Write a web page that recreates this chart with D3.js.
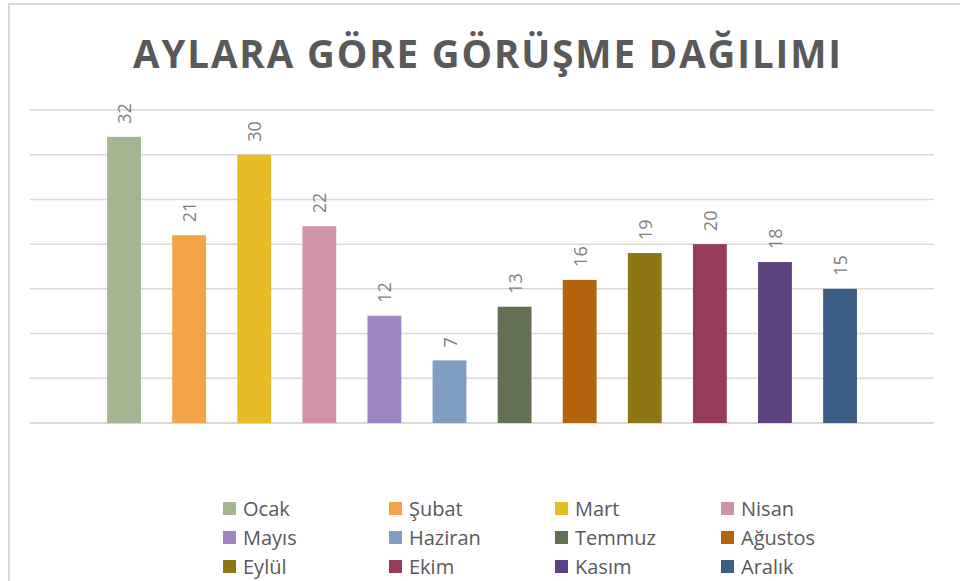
<!DOCTYPE html>
<html>
<head>
<meta charset="utf-8">
<script src="https://cdn.jsdelivr.net/npm/d3@7"></script>
<style>
  body { margin: 0; background: #fff; }
  svg { display: block; }
</style>
</head>
<body>
<svg id="chart" width="960" height="581"></svg>
<script>
// Chart data
const months = ['Ocak', 'Şubat', 'Mart', 'Nisan', 'Mayıs', 'Haziran',
  'Temmuz', 'Ağustos', 'Eylül', 'Ekim', 'Kasım', 'Aralık'];
const counts = [32, 21, 30, 22, 12, 7, 13, 16, 19, 20, 18, 15];
const colors = ['#A5B592', '#F3A447', '#E7BC29', '#D092A7', '#9C85C0', '#809EC2',
  '#637052', '#B3640F', '#907514', '#953C5B', '#5C4280', '#3C5E84'];
const yTicks = [0, 5, 10, 15, 20, 25, 30, 35];

const svg = d3.select('#chart');

// Chart frame
svg.append('path')
  .attr('d', 'M9,581 V4 H960')
  .attr('fill', 'none')
  .attr('stroke', '#d9d9d9')
  .attr('stroke-width', 2);

// Title
svg.append('text')
  .attr('x', 488)
  .attr('y', 68)
  .attr('text-anchor', 'middle')
  .attr('textLength', 710)
  .attr('lengthAdjust', 'spacingAndGlyphs')
  .style('font-family', '"Open Sans", sans-serif')
  .style('font-weight', 'bold')
  .style('font-size', '40px')
  .style('letter-spacing', '2px')
  .style('fill', '#595959')
  .text('AYLARA GÖRE GÖRÜŞME DAĞILIMI');

// Scales
const xScale = d3.scaleBand()
  .domain(months)
  .range([91.5, 872.6])
  .paddingInner(0.48)
  .paddingOuter(0.24);

const yScale = d3.scaleLinear()
  .domain([0, 35])
  .range([423, 110]);

// Gridlines
svg.append('g')
  .selectAll('line')
  .data(yTicks)
  .enter().append('line')
  .attr('x1', 30)
  .attr('x2', 934)
  .attr('y1', (d) => yScale(d))
  .attr('y2', (d) => yScale(d))
  .attr('stroke', '#d9d9d9')
  .attr('stroke-width', (d) => (d === 0 ? 2 : 1.5));

// Bars
svg.append('g')
  .selectAll('rect')
  .data(counts)
  .enter().append('rect')
  .attr('x', (d, i) => xScale(months[i]))
  .attr('y', (d) => yScale(d))
  .attr('width', xScale.bandwidth())
  .attr('height', (d) => yScale(0) - yScale(d))
  .attr('fill', (d, i) => colors[i]);

// Data labels (rotated)
svg.append('g')
  .selectAll('text')
  .data(counts)
  .enter().append('text')
  .attr('transform', (d, i) => {
    const cx = xScale(months[i]) + xScale.bandwidth() / 2 + 7;
    return `translate(${cx},${yScale(d) - 13}) rotate(-90)`;
  })
  .style('font-family', '"Open Sans", sans-serif')
  .style('font-size', '18px')
  .style('fill', '#7f7f7f')
  .text((d) => d);

// Legend, 4 columns x 3 rows
const legend = svg.append('g')
  .selectAll('g')
  .data(months)
  .enter().append('g')
  .attr('transform', (d, i) => `translate(${223 + (i % 4) * 166},${502 + Math.floor(i / 4) * 29})`);

legend.append('rect')
  .attr('width', 13)
  .attr('height', 13)
  .attr('fill', (d, i) => colors[i]);

legend.append('text')
  .attr('x', 20)
  .attr('y', 14)
  .style('font-family', '"Open Sans", sans-serif')
  .style('font-size', '20px')
  .style('fill', '#595959')
  .text((d) => d);
</script>
</body>
</html>
